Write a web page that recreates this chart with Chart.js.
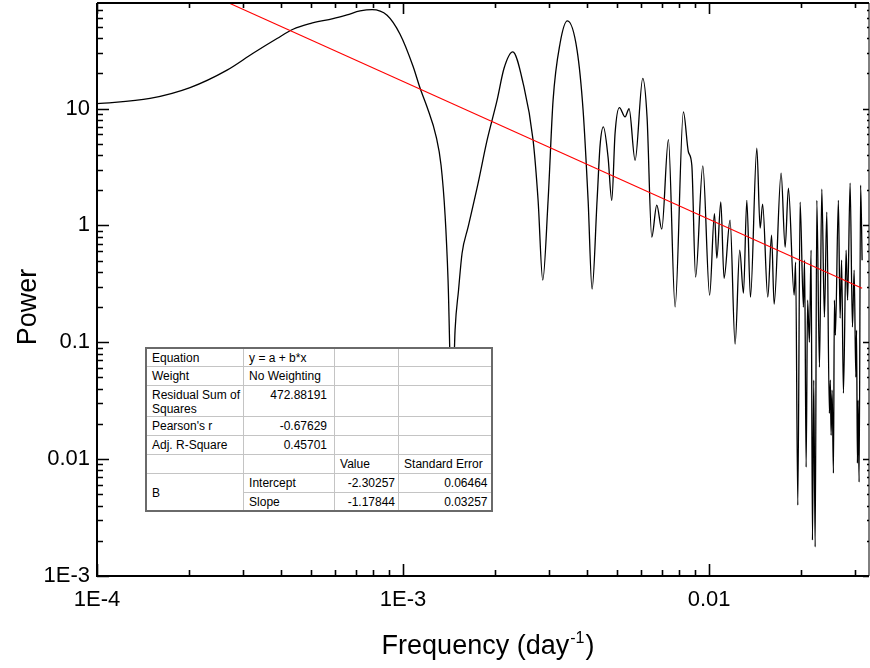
<!DOCTYPE html>
<html>
<head>
<meta charset="utf-8">
<script src="https://cdn.jsdelivr.net/npm/chart.js@4.4.1/dist/chart.umd.min.js"></script>
<style>
  html, body { margin: 0; padding: 0; background: #fff; }
  #wrap { position: relative; width: 870px; height: 668px; }
  #fit {
    position: absolute; left: 145px; top: 347px;
    border-collapse: collapse; table-layout: fixed;
    background: #fff; border: 2px solid #6a6a6a;
    font: 12px "Liberation Sans", Arial, sans-serif; color: #000;
  }
  #fit td {
    border: 1px solid #c4c4c4; padding: 2px 3px 0 5px;
    vertical-align: top; line-height: 14px; white-space: nowrap; overflow: hidden;
  }
  #fit td.num { text-align: right; padding-right: 3px; }
  #fit td.num2 { text-align: right; padding-right: 7px; }
  #fit td.mid { vertical-align: middle; }
</style>
</head>
<body>
<div id="wrap">
  <canvas id="c" width="870" height="668"></canvas>
  <table id="fit"></table>
</div>
<script>
// power spectrum
const FREQ = [
  1.000e-4, 1.490e-4, 2.014e-4, 2.66e-4, 3.235e-4, 3.875e-4, 4.37e-4, 4.967e-4, 5.905e-4, 6.561e-4,
  7.236e-4, 7.917e-4, 8.867e-4, 9.777e-4, 1.078e-3, 1.137e-3, 1.198e-3, 1.282e-3, 1.331e-3, 1.372e-3,
  1.403e-3, 1.446e-3, 1.479e-3, 1.518e-3, 1.559e-3, 1.631e-3, 1.759e-3, 1.882e-3, 2.029e-3, 2.138e-3,
  2.283e-3, 2.467e-3, 2.66e-3, 2.762e-3, 2.861e-3, 2.978e-3, 3.092e-3, 3.259e-3, 3.443e-3, 3.704e-3,
  3.875e-3, 4.024e-3, 4.146e-3, 4.305e-3, 4.404e-3, 4.514e-3, 4.676e-3, 4.808e-3, 4.929e-3, 5.091e-3,
  5.314e-3, 5.477e-3, 5.73e-3, 6.07e-3, 6.27e-3, 6.496e-3, 6.745e-3, 7.004e-3, 7.362e-3, 7.743e-3,
  8.241e-3, 8.559e-3, 8.781e-3, 9.035e-3, 9.537e-3, 1.004e-2, 1.041e-2, 1.06e-2, 1.092e-2, 1.119e-2,
  1.171e-2, 1.216e-2, 1.259e-2, 1.295e-2, 1.328e-2, 1.365e-2, 1.432e-2, 1.468e-2, 1.496e-2, 1.555e-2,
  1.6e-2, 1.631e-2, 1.719e-2, 1.772e-2, 1.816e-2, 1.896e-2, 1.917e-2, 1.949e-2, 1.983e-2, 2.033e-2,
  2.051e-2, 2.075e-2, 2.098e-2, 2.127e-2, 2.154e-2, 2.176e-2, 2.197e-2, 2.221e-2, 2.249e-2, 2.294e-2,
  2.335e-2, 2.381e-2, 2.424e-2, 2.472e-2, 2.489e-2, 2.504e-2, 2.523e-2, 2.548e-2, 2.567e-2, 2.586e-2,
  2.645e-2, 2.679e-2, 2.71e-2, 2.747e-2, 2.803e-2, 2.835e-2, 2.889e-2, 2.94e-2, 2.978e-2, 3.016e-2,
  3.032e-2, 3.052e-2, 3.068e-2, 3.091e-2, 3.126e-2, 3.162e-2
];
const POWER = [
  11.0, 12.2, 15.1, 21.3, 29.7, 39.7, 47.7, 53.4, 58.9, 63.4,
  68.4, 70.3, 62.8, 43.2, 23.0, 14.9, 10.3, 5.79, 3.27, 1.22,
  0.340, 0.0216, 0.127, 0.279, 0.578, 0.965, 2.30, 5.36, 11.8, 22.1,
  30.5, 16.5, 5.36, 1.64, 0.340, 1.64, 11.8, 36.2, 56.2, 31.5,
  9.67, 1.64, 0.285, 1.64, 4.86, 6.96, 3.83, 1.64, 6.15, 10.2,
  8.48, 9.96, 3.61, 18.1, 8.43, 0.793, 1.49, 0.928, 5.43, 0.201,
  9.35, 4.25, 3.27, 0.361, 3.23, 0.253, 1.26, 0.524, 1.59, 0.353,
  1.11, 0.0963, 0.614, 0.263, 1.64, 0.243, 4.58, 0.946, 1.52, 0.243,
  0.824, 0.212, 2.80, 0.651, 2.08, 0.253, 0.484, 0.00404, 1.58, 0.200,
  0.504, 0.00854, 0.229, 0.100, 0.614, 0.00203, 0.0474, 0.00177, 1.64, 0.0612,
  2.04, 0.164, 1.30, 0.0247, 0.0474, 0.0160, 0.0389, 0.00759, 0.229, 0.115,
  1.64, 0.161, 0.504, 0.0367, 0.614, 0.229, 2.30, 0.135, 0.414, 0.0503,
  0.127, 0.00924, 0.032, 0.00636, 2.21, 0.504
];

// linear fit in log-log space, end points
const FIT_FREQ = [1.0e-4, 3.162e-2];
const FIT_POWER = [258, 0.29];

const X_TICKS = [1e-4, 1e-3, 1e-2];
const X_LABELS = ['1E-4', '1E-3', '0.01'];
const Y_TICKS = [1e-3, 1e-2, 0.1, 1, 10];
const Y_LABELS = ['1E-3', '0.01', '0.1', '1', '10'];
const MINOR = [2, 3, 4, 5, 6, 7, 8, 9];

const FIT_ROWS = [
  ['Equation', 'y = a + b*x', '', ''],
  ['Weight', 'No Weighting', '', ''],
  ['Residual Sum of<br>Squares', '472.88191', '', ''],
  ["Pearson's r", '-0.67629', '', ''],
  ['Adj. R-Square', '0.45701', '', ''],
  ['', '', 'Value', 'Standard Error']
];
const PARAM_NAME = 'B';
const PARAM_ROWS = [
  ['Intercept', '-2.30257', '0.06464'],
  ['Slope', '-1.17844', '0.03257']
];

const FONT = '"Liberation Sans", Arial, sans-serif';
Chart.defaults.font.family = FONT;
Chart.defaults.color = '#000';

// fit results table
(function buildTable() {
  const isNum = s => /^-?\d/.test(s);
  const heights = [18, 19, 31, 19, 19, 19];
  let html = '<colgroup><col style="width:96px"><col style="width:91px"><col style="width:64px"><col style="width:93px"></colgroup>';
  FIT_ROWS.forEach((r, i) => {
    html += `<tr style="height:${heights[i]}px">` + r.map((c, j) => {
      const cls = isNum(c) ? (j === 1 ? 'num2' : 'num') : '';
      return `<td class="${cls}">${c}</td>`;
    }).join('') + '</tr>';
  });
  PARAM_ROWS.forEach((r, i) => {
    html += '<tr style="height:19px">';
    if (i === 0) html += `<td class="mid" rowspan="${PARAM_ROWS.length}">${PARAM_NAME}</td>`;
    html += `<td>${r[0]}</td><td class="num">${r[1]}</td><td class="num">${r[2]}</td></tr>`;
  });
  document.getElementById('fit').innerHTML = html;
})();

function decadeTicks(min, max) {
  const out = [];
  for (let e = Math.floor(Math.log10(min)); e <= Math.ceil(Math.log10(max)); e++) {
    const base = Math.pow(10, e);
    if (base >= min * 0.999 && base <= max * 1.001) out.push({ v: base, major: true });
    MINOR.forEach(m => {
      const v = m * base;
      if (v > min * 1.001 && v < max * 0.999) out.push({ v, major: false });
    });
  }
  return out;
}

const framePlugin = {
  id: 'frame',
  afterDatasetsDraw(chart) {
    const { ctx, chartArea: a, scales: { x, y } } = chart;
    ctx.save();
    ctx.strokeStyle = '#000';
    ctx.lineWidth = 2;
    ctx.beginPath();
    ctx.moveTo(a.left, a.top); ctx.lineTo(a.right, a.top);
    ctx.moveTo(a.left, a.top); ctx.lineTo(a.left, a.bottom); ctx.lineTo(a.right, a.bottom);
    ctx.stroke();
    ctx.lineWidth = 1;
    ctx.beginPath();
    ctx.moveTo(a.right, a.top); ctx.lineTo(a.right, a.bottom);
    ctx.stroke();

    ctx.lineWidth = 1.6;
    decadeTicks(x.min, x.max).forEach(t => {
      const px = Math.round(x.getPixelForValue(t.v)) + 0.5;
      ctx.beginPath();
      ctx.moveTo(px, a.bottom); ctx.lineTo(px, a.bottom - (t.major ? 12 : 6));
      ctx.moveTo(px, a.top); ctx.lineTo(px, a.top + (t.major ? 11 : 5));
      ctx.stroke();
    });
    decadeTicks(y.min, y.max).forEach(t => {
      const py = Math.round(y.getPixelForValue(t.v)) + 0.5;
      ctx.beginPath();
      ctx.moveTo(a.left, py); ctx.lineTo(a.left + (t.major ? 12 : 6), py);
      ctx.moveTo(a.right, py); ctx.lineTo(a.right - (t.major ? 6 : 2), py);
      ctx.stroke();
    });
    ctx.restore();
  },
  afterDraw(chart) {
    const { ctx } = chart;
    ctx.save();
    ctx.fillStyle = '#000';
    ctx.font = '27px ' + FONT;
    ctx.textBaseline = 'alphabetic';
    // y title
    ctx.save();
    ctx.translate(36, 307);
    ctx.rotate(-Math.PI / 2);
    ctx.textAlign = 'center';
    ctx.fillText('Power', 0, 0);
    ctx.restore();
    // x title with superscript
    const main = 'Frequency (day';
    ctx.font = '27px ' + FONT;
    const w1 = ctx.measureText(main).width;
    const w3 = ctx.measureText(')').width;
    ctx.font = '16px ' + FONT;
    const w2 = ctx.measureText('-1').width;
    let sx = 487 - (w1 + w2 + w3) / 2;
    const base = 654;
    ctx.textAlign = 'left';
    ctx.font = '27px ' + FONT;
    ctx.fillText(main, sx, base);
    ctx.font = '16px ' + FONT;
    ctx.fillText('-1', sx + w1 + 1, base - 11);
    ctx.font = '27px ' + FONT;
    ctx.fillText(')', sx + w1 + w2 + 2, base);
    ctx.restore();
  }
};

new Chart(document.getElementById('c'), {
  type: 'line',
  data: {
    datasets: [
      {
        label: 'Fit',
        data: FIT_FREQ.map((f, i) => ({ x: f, y: FIT_POWER[i] })),
        borderColor: '#ff0000',
        borderWidth: 1.1,
        pointRadius: 0,
        tension: 0
      },
      {
        label: 'Power',
        data: FREQ.map((f, i) => ({ x: f, y: POWER[i] })),
        borderColor: '#000',
        borderWidth: 1.3,
        pointRadius: 0,
        cubicInterpolationMode: 'monotone'
      }
    ]
  },
  options: {
    responsive: false,
    animation: false,
    events: [],
    layout: { padding: { top: 3, right: 1, left: 0, bottom: 0 } },
    plugins: { legend: { display: false }, tooltip: { enabled: false } },
    scales: {
      x: {
        type: 'logarithmic',
        min: 1e-4,
        max: 0.0333,
        grid: { display: false, drawTicks: false },
        border: { display: false },
        afterBuildTicks: s => { s.ticks = X_TICKS.map(v => ({ value: v })); },
        afterFit: s => { s.height = 92; s.paddingLeft = 0; s.paddingRight = 0; },
        ticks: {
          autoSkip: false, maxRotation: 0, padding: 11,
          font: { size: 22 }, color: '#000',
          callback: (v, i) => X_LABELS[i]
        }
      },
      y: {
        type: 'logarithmic',
        min: 1e-3,
        max: 80,
        grid: { display: false, drawTicks: false },
        border: { display: false },
        afterBuildTicks: s => { s.ticks = Y_TICKS.map(v => ({ value: v })); },
        afterFit: s => { s.width = 97; s.paddingTop = 0; s.paddingBottom = 0; },
        ticks: {
          autoSkip: false, padding: 7,
          font: { size: 22 }, color: '#000',
          callback: (v, i) => Y_LABELS[i]
        }
      }
    }
  },
  plugins: [framePlugin]
});
</script>
</body>
</html>
